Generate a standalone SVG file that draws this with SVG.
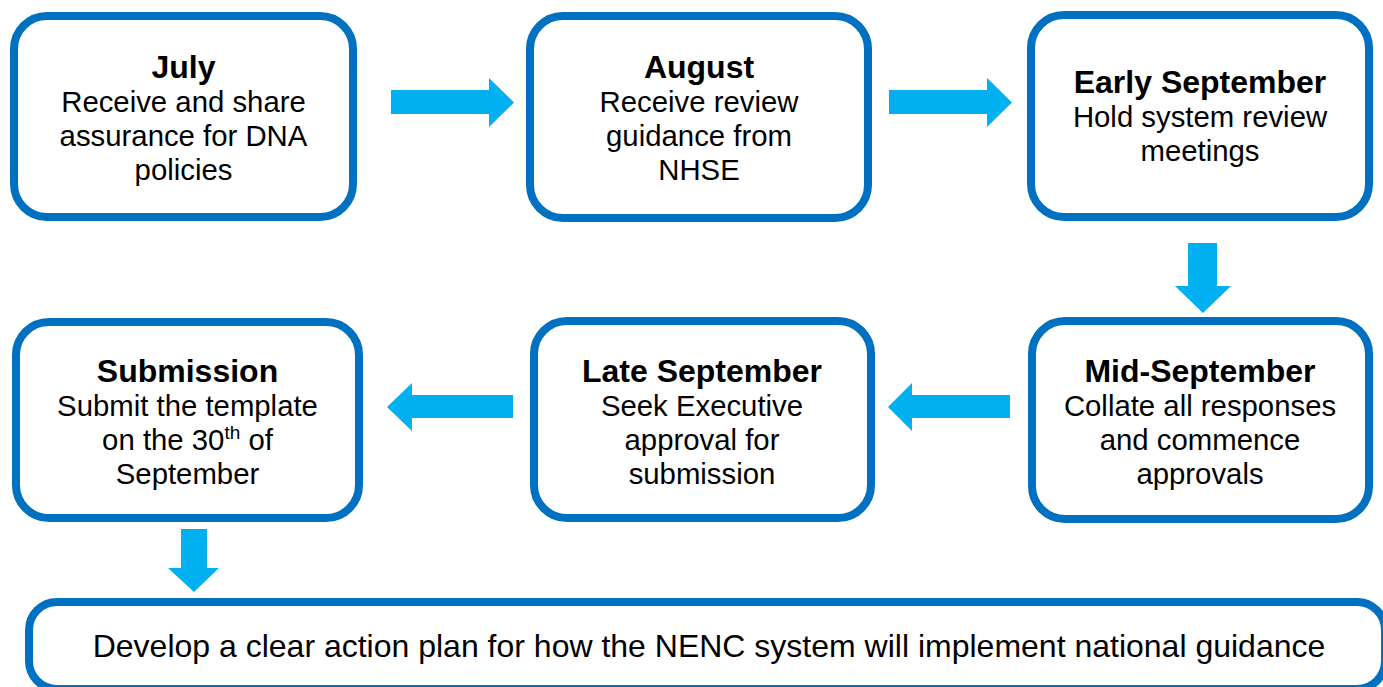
<svg xmlns="http://www.w3.org/2000/svg" width="1383" height="687" viewBox="0 0 1383 687">
  <style>
    .box { fill: #FFFFFF; stroke: #0070C0; stroke-width: 8; }
    .arrow { fill: #00B0F0; }
    text { font-family: "Liberation Sans", Arial, sans-serif; fill: #000000; text-anchor: middle; }
    .title { font-size: 32px; font-weight: bold; }
    .body { font-size: 29.33px; }
    .wide { font-size: 32px; }
    .sup { font-size: 19px; }
  </style>
  <rect width="1383" height="687" fill="#FFFFFF"/>

  <g id="connectors">
    <polygon class="arrow" points="391,90 489,90 489,78 514,102.5 489,127 489,114 391,114"/>
    <polygon class="arrow" points="889,90 987,90 987,78 1012,102.5 987,127 987,114 889,114"/>
    <polygon class="arrow" points="1188,243 1217,243 1217,286 1231,286 1203,313 1175,286 1188,286"/>
    <polygon class="arrow" points="1010,395 912,395 912,383 888,407 912,431 912,418 1010,418"/>
    <polygon class="arrow" points="513,395 412,395 412,383 387,407 412,431 412,418 513,418"/>
    <polygon class="arrow" points="181,529 207,529 207,568 219,568 194,592 168,568 181,568"/>
  </g>

  <g id="july">
    <rect class="box" x="14" y="16" width="339" height="201" rx="33"/>
    <text x="183.5" y="78" class="title">July</text>
    <text x="183.5" y="112" class="body">Receive and share</text>
    <text x="183.5" y="146" class="body">assurance for DNA</text>
    <text x="183.5" y="180" class="body">policies</text>
  </g>

  <g id="august">
    <rect class="box" x="530" y="16" width="338" height="202" rx="33"/>
    <text x="699" y="78" class="title">August</text>
    <text x="699" y="112" class="body">Receive review</text>
    <text x="699" y="146" class="body">guidance from</text>
    <text x="699" y="180" class="body">NHSE</text>
  </g>

  <g id="early-september">
    <rect class="box" x="1031" y="15" width="338" height="202" rx="33"/>
    <text x="1200" y="93" class="title">Early September</text>
    <text x="1200" y="127" class="body">Hold system review</text>
    <text x="1200" y="161" class="body">meetings</text>
  </g>

  <g id="mid-september">
    <rect class="box" x="1032" y="321" width="337" height="198" rx="33"/>
    <text x="1200" y="382" class="title">Mid-September</text>
    <text x="1200" y="416" class="body">Collate all responses</text>
    <text x="1200" y="450" class="body">and commence</text>
    <text x="1200" y="484" class="body">approvals</text>
  </g>

  <g id="late-september">
    <rect class="box" x="534" y="321" width="337" height="197" rx="33"/>
    <text x="702" y="382" class="title">Late September</text>
    <text x="702" y="416" class="body">Seek Executive</text>
    <text x="702" y="450" class="body">approval for</text>
    <text x="702" y="484" class="body">submission</text>
  </g>

  <g id="submission">
    <rect class="box" x="16" y="322" width="343" height="196" rx="33"/>
    <text x="187.5" y="382" class="title">Submission</text>
    <text x="187.5" y="416" class="body">Submit the template</text>
    <text x="187.5" y="450" class="body">on the 30<tspan class="sup" dy="-11">th</tspan><tspan dy="11"> of</tspan></text>
    <text x="187.5" y="484" class="body">September</text>
  </g>

  <g id="action-plan">
    <rect class="box" x="29" y="602" width="1356" height="87" rx="28"/>
    <text x="709" y="657" class="wide">Develop a clear action plan for how the NENC system will implement national guidance</text>
  </g>
</svg>
